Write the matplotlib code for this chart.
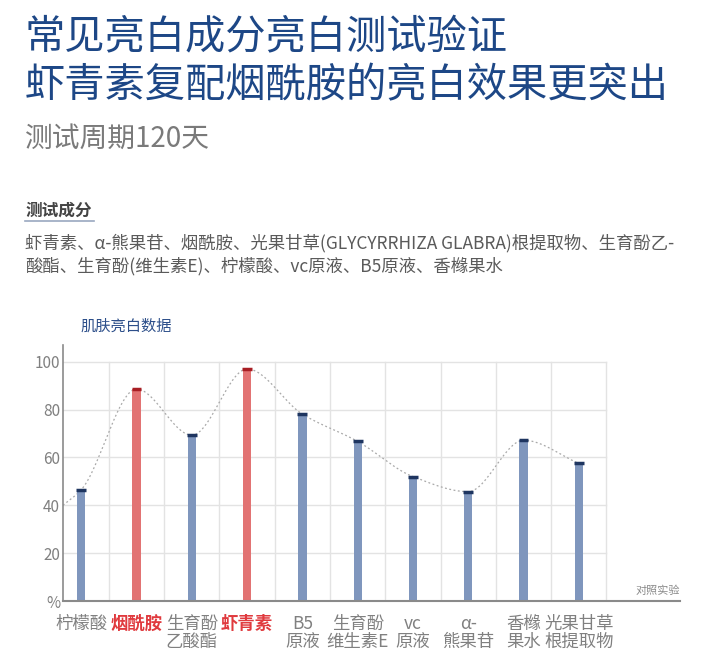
import numpy as np
import matplotlib
matplotlib.use("Agg")
import matplotlib.pyplot as plt

plt.rcParams['font.family'] = ['Noto Sans CJK SC', 'DejaVu Sans']

# data
labels = ['柠檬酸', '烟酰胺', '生育酚\n乙酸酯', '虾青素', 'B5\n原液', '生育酚\n维生素E',
          'vc\n原液', 'α-\n熊果苷', '香橼\n果水', '光果甘草\n根提取物']
values = [46.5, 88.6, 69.3, 97.0, 78.1, 66.7, 52.0, 45.7, 67.2, 57.5]
highlight = [False, True, False, True, False, False, False, False, False, False]
curve_start = 40
yticks = [0, 20, 40, 60, 80, 100]
ytick_labels = ['%', '20', '40', '60', '80', '100']

title_lines = ['常见亮白成分亮白测试验证', '虾青素复配烟酰胺的亮白效果更突出']
subtitle = '测试周期120天'
section = '测试成分'
body = ['虾青素、α-熊果苷、烟酰胺、光果甘草(GLYCYRRHIZA GLABRA)根提取物、生育酚乙-',
        '酸酯、生育酚(维生素E)、柠檬酸、vc原液、B5原液、香橼果水']

BLUE = '#7f96bd'
BLUE_CAP = '#1e3560'
RED = '#e27373'
RED_CAP = '#a81e24'
TITLE_C = '#1d4786'
GRAY = '#808080'


def pchip(x, y, xs):
    # monotone cubic (flat at local extremes)
    x = np.asarray(x, float)
    y = np.asarray(y, float)
    h = np.diff(x)
    d = np.diff(y) / h
    m = np.zeros_like(y)
    m[0], m[-1] = d[0], d[-1]
    for k in range(1, len(y) - 1):
        if d[k - 1] * d[k] > 0:
            w1 = 2 * h[k] + h[k - 1]
            w2 = h[k] + 2 * h[k - 1]
            m[k] = (w1 + w2) / (w1 / d[k - 1] + w2 / d[k])
    out = []
    for xv in xs:
        k = min(np.searchsorted(x, xv, side='right') - 1, len(h) - 1)
        t = (xv - x[k]) / h[k]
        h00 = 2 * t**3 - 3 * t**2 + 1
        h10 = t**3 - 2 * t**2 + t
        h01 = -2 * t**3 + 3 * t**2
        h11 = t**3 - t**2
        out.append(h00 * y[k] + h10 * h[k] * m[k] + h01 * y[k + 1] + h11 * h[k] * m[k + 1])
    return np.array(out)


fig = plt.figure(figsize=(7.2, 6.72), dpi=100)

# header texts
fig.text(25 / 720, 1 - 38 / 672, title_lines[0], fontsize=29, color=TITLE_C, va='center')
fig.text(25 / 720, 1 - 86 / 672, title_lines[1], fontsize=29, color=TITLE_C, va='center')
fig.text(25 / 720, 1 - 139 / 672, subtitle, fontsize=20, color='#7a7a7a', va='center')
fig.text(25 / 720, 1 - 211 / 672, section, fontsize=12, color='#444444',
         va='center', fontweight='bold')
fig.add_artist(plt.Line2D([25 / 720, 94 / 720], [1 - 221 / 672] * 2, color='#9aa8c0', lw=1.2))
fig.text(25 / 720, 1 - 243 / 672, body[0], fontsize=12.5, color='#5a5a5a', va='center')
fig.text(25 / 720, 1 - 266 / 672, body[1], fontsize=12.5, color='#5a5a5a', va='center')
fig.text(80 / 720, 1 - 326 / 672, '肌肤亮白数据', fontsize=11, color='#2d4f8a', va='center')

# chart
ax = fig.add_axes([63 / 720, 1 - 601 / 672, (680 - 63) / 720, (601 - 345) / 672])
x = np.arange(len(values))
xl, xr = -0.33, 10.83
ax.set_xlim(xl, xr)
ax.set_ylim(0, 107)

for v in yticks:
    ax.plot([xl, 9.5], [v, v], color='#e3e3e3', lw=1, zorder=0)
for g in np.arange(0.5, 10, 1):
    ax.plot([g, g], [0, 100], color='#e3e3e3', lw=1, zorder=0)

colors = [RED if h else BLUE for h in highlight]
caps = [RED_CAP if h else BLUE_CAP for h in highlight]
ax.bar(x, values, width=0.15, color=colors, zorder=2)
ax.scatter(x, values, marker='_', s=50, c=caps, linewidths=2.5, zorder=3)

cx = np.concatenate([[xl], x])
cy = np.concatenate([[curve_start], values])
xs = np.linspace(xl, x[-1], 400)
ax.plot(xs, pchip(cx, cy, xs), color='#a9a9a9', lw=0.9, ls=(0, (1.5, 2)), zorder=1)

for s in ['top', 'right']:
    ax.spines[s].set_visible(False)
ax.spines['left'].set_color('#8a8a8a')
ax.spines['bottom'].set_color('#8a8a8a')
ax.spines['left'].set_linewidth(1.2)
ax.spines['bottom'].set_linewidth(1.5)

ax.set_yticks(yticks)
ax.set_yticklabels(ytick_labels, fontsize=11, color=GRAY)
ax.tick_params(axis='y', length=0, pad=2)
ax.set_xticks(x)
ax.set_xticklabels(labels, fontsize=12.5, color=GRAY, linespacing=1.0, va='top')
ax.tick_params(axis='x', length=0, pad=10)
for t, h in zip(ax.get_xticklabels(), highlight):
    if h:
        t.set_color('#e03a3e')
        t.set_fontweight('bold')

ax.text(xr, 2, '对照实验', fontsize=8, color='#8a8a8a', ha='right', va='bottom')

fig.savefig('out.png', dpi=100)
